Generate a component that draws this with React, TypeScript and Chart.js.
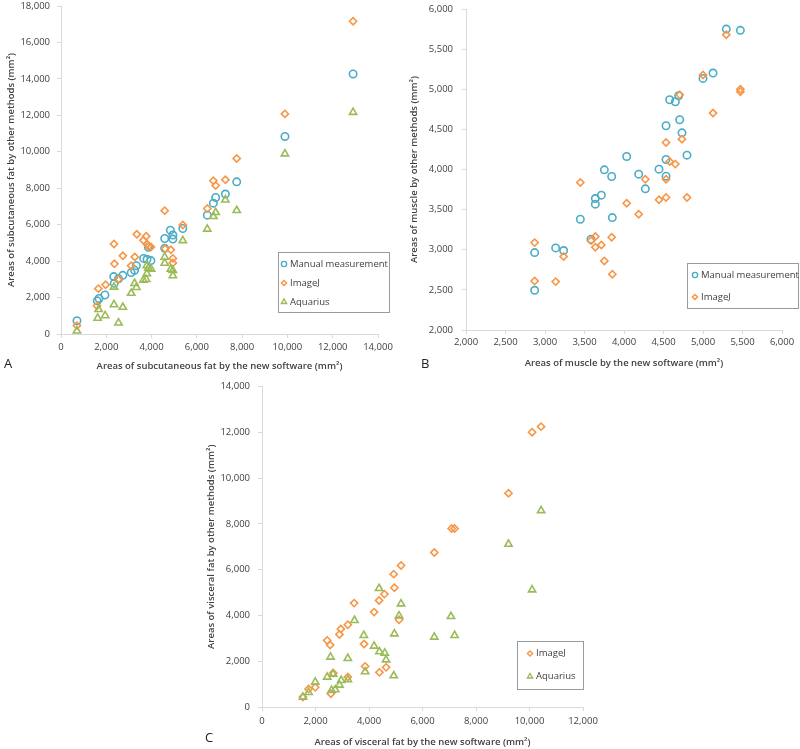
import React, { useEffect, useRef } from "react";
import { Chart, registerables } from "chart.js";

Chart.register(...registerables);

const FONT = '"Open Sans", "Noto Sans", sans-serif';
const TEXT = "#404040";
const AXIS = "#d9d9d9";
const BLUE = "#4bacc6";
const ORANGE = "#f79646";
const GREEN = "#9bbb59";

// ---------- Panel A: subcutaneous fat ----------
const subcutManualX = [705, 1600, 1680, 1940, 2330, 2350, 2540, 2730, 3100, 3250, 3330, 3650, 3800, 3860, 3970, 4580, 4580, 4830, 4940, 4940, 5380, 6460, 6730, 6830, 7260, 7760, 9890, 12900];
const subcutManualY = [730, 1820, 1950, 2140, 3150, 2780, 3030, 3220, 3370, 3500, 3750, 4150, 4100, 4760, 4030, 5240, 4700, 5700, 5430, 5210, 5790, 6520, 7180, 7490, 7680, 8350, 10840, 14270];
const subcutImageJX = [705, 1590, 1650, 1970, 2340, 2360, 2540, 2730, 3100, 3260, 3350, 3640, 3760, 3800, 3860, 3970, 4580, 4600, 4850, 4940, 4940, 5380, 6460, 6730, 6830, 7260, 7760, 9890, 12900];
const subcutImageJY = [460, 1550, 2490, 2700, 4940, 3850, 3010, 4290, 3750, 4230, 5470, 5140, 5360, 4930, 4810, 4770, 6770, 4680, 4620, 4150, 3900, 5980, 6890, 8410, 8150, 8460, 9630, 12080, 17160];
const subcutAquariusX = [705, 1620, 1660, 1950, 2340, 2340, 2540, 2730, 3100, 3250, 3330, 3640, 3760, 3790, 3790, 3860, 3980, 4580, 4580, 4850, 4940, 4940, 5380, 6460, 6730, 6830, 7260, 7760, 9890, 12900];
const subcutAquariusY = [170, 870, 1350, 1010, 1610, 2580, 610, 1470, 2240, 2780, 2560, 2960, 3000, 3310, 3760, 3620, 3560, 4220, 3890, 3560, 3490, 3200, 5130, 5760, 6450, 6670, 7360, 6780, 9890, 12170];

// ---------- Panel B: muscle ----------
const muscleManualX = [2869, 2869, 3135, 3236, 3447, 3582, 3637, 3637, 3713, 3751, 3844, 3852, 4034, 4186, 4270, 4443, 4532, 4532, 4532, 4578, 4650, 4692, 4705, 4734, 4797, 5000, 5127, 5295, 5473];
const muscleManualY = [2495, 2965, 3023, 2990, 3380, 3131, 3638, 3568, 3680, 3996, 3913, 3401, 4162, 3942, 3759, 4004, 4545, 4125, 3917, 4869, 4844, 4919, 4620, 4457, 4179, 5135, 5202, 5750, 5734];
const muscleImageJX = [2869, 2869, 3135, 3236, 3447, 3582, 3637, 3637, 3713, 3751, 3844, 3852, 4034, 4186, 4270, 4443, 4532, 4532, 4532, 4578, 4650, 4705, 4734, 4797, 5000, 5127, 5295, 5473, 5473];
const muscleImageJY = [3089, 2611, 2603, 2915, 3838, 3114, 3164, 3031, 3060, 2861, 3156, 2694, 3580, 3443, 3879, 3622, 4337, 3651, 3879, 4100, 4067, 4930, 4378, 3651, 5177, 4703, 5680, 5000, 4970];

// ---------- Panel C: visceral fat ----------
const visceralImageJX = [1530, 1741, 1990, 2437, 2549, 2574, 2661, 2897, 2947, 3208, 3208, 3444, 3817, 3855, 4190, 4377, 4389, 4576, 4638, 4924, 4949, 5123, 5198, 6441, 7088, 7200, 9214, 10097, 10433];
const visceralImageJY = [436, 785, 858, 2909, 2705, 582, 1484, 3171, 3404, 3593, 1309, 4538, 2749, 1775, 4145, 4655, 1513, 4931, 1731, 5804, 5207, 3811, 6182, 6749, 7796, 7796, 9338, 12000, 12247];
const visceralAquariusX = [1530, 1741, 1990, 2437, 2561, 2599, 2661, 2736, 2897, 2959, 3208, 3208, 3457, 3805, 3855, 4190, 4377, 4389, 4588, 4638, 4924, 4949, 5123, 5198, 6441, 7063, 7200, 9214, 10097, 10433];
const visceralAquariusY = [436, 640, 1091, 1309, 2182, 727, 1440, 756, 960, 1164, 2124, 1193, 3782, 3127, 1542, 2662, 5178, 2415, 2356, 2065, 1367, 3200, 3985, 4509, 3055, 3956, 3127, 7113, 5120, 8582];

type Style = "circle" | "rectRot" | "triangle";
interface Series {
  label: string;
  xs: number[];
  ys: number[];
  color: string;
  style: Style;
  order: number;
}
interface PanelCfg {
  left: number;
  top: number;
  w: number;
  h: number;
  padTop: number;
  padRight: number;
  yWidth: number;
  xHeight: number;
  xMin: number;
  xMax: number;
  xStep: number;
  yMin: number;
  yMax: number;
  yStep: number;
  xTitle: string;
  yTitle: string;
  yTitlePad: number;
  xTitlePad: number;
  xTickPad: number;
  yTickPad: number;
  series: Series[];
  legend: { x: number; y: number; w: number; h: number; rows: number[]; markerX: number; textX: number };
}

const radiusFor = (s: Style) => (s === "triangle" ? 4.2 : s === "circle" ? 3.7 : 3.6);

function drawMarker(ctx: CanvasRenderingContext2D, style: Style, x: number, y: number, r: number, color: string) {
  ctx.beginPath();
  if (style === "circle") {
    ctx.arc(x, y, r, 0, Math.PI * 2);
  } else if (style === "rectRot") {
    ctx.moveTo(x, y - r);
    ctx.lineTo(x + r, y);
    ctx.lineTo(x, y + r);
    ctx.lineTo(x - r, y);
    ctx.closePath();
  } else {
    const a1 = (2 * Math.PI) / 3;
    ctx.moveTo(x, y - r);
    ctx.lineTo(x + r * Math.sin(a1), y - r * Math.cos(a1));
    ctx.lineTo(x - r * Math.sin(a1), y - r * Math.cos(a1));
    ctx.closePath();
  }
  ctx.strokeStyle = color;
  ctx.lineWidth = 1.4;
  ctx.stroke();
}

const fmt = (v: number | string) => Number(v).toLocaleString("en-US");

function ScatterPanel({ cfg }: { cfg: PanelCfg }) {
  const ref = useRef<HTMLCanvasElement>(null);
  useEffect(() => {
    if (!ref.current) return;
    const lg = cfg.legend;
    const legendPlugin = {
      id: "boxLegend",
      afterDraw(chart: any) {
        const ctx: CanvasRenderingContext2D = chart.ctx;
        ctx.save();
        ctx.strokeStyle = "#9a9a9a";
        ctx.lineWidth = 1;
        ctx.strokeRect(Math.round(lg.x) + 0.5, Math.round(lg.y) + 0.5, lg.w, lg.h);
        ctx.font = `9.5px ${FONT}`;
        ctx.fillStyle = TEXT;
        ctx.textBaseline = "middle";
        ctx.textAlign = "left";
        cfg.series.forEach((s, i) => {
          drawMarker(ctx, s.style, lg.markerX, lg.rows[i], s.style === "triangle" ? 3 : 2.6, s.color);
          ctx.fillText(s.label, lg.textX, lg.rows[i]);
        });
        ctx.restore();
      },
    };
    const chart = new Chart(ref.current, {
      type: "scatter",
      data: {
        datasets: cfg.series.map((s) => ({
          label: s.label,
          data: s.xs.map((x, i) => ({ x, y: s.ys[i] })),
          pointStyle: s.style,
          pointRadius: radiusFor(s.style),
          pointHoverRadius: radiusFor(s.style),
          pointBorderWidth: 1.6,
          borderColor: s.color,
          backgroundColor: "rgba(0,0,0,0)",
          showLine: false,
          order: s.order,
        })),
      },
      options: {
        responsive: false,
        maintainAspectRatio: false,
        animation: false,
        layout: { padding: { left: 0, right: cfg.padRight, top: cfg.padTop, bottom: 0 } },
        plugins: { legend: { display: false }, tooltip: { enabled: false } },
        scales: {
          x: {
            type: "linear",
            min: cfg.xMin,
            max: cfg.xMax,
            ticks: {
              stepSize: cfg.xStep,
              callback: (v: any) => fmt(v),
              font: { family: FONT, size: 9.5 },
              color: TEXT,
              padding: cfg.xTickPad,
              maxRotation: 0,
              autoSkip: false,
            },
            grid: { display: true, drawOnChartArea: false, drawTicks: true, tickLength: 4, color: AXIS },
            border: { display: true, color: AXIS, width: 1 },
            title: {
              display: true,
              text: cfg.xTitle,
              color: TEXT,
              font: { family: FONT, size: 9.5, weight: "600" },
              padding: { top: 0, bottom: cfg.xTitlePad },
            },
            afterFit: (scale: any) => {
              scale.height = cfg.xHeight;
              scale.paddingLeft = 0;
              scale.paddingRight = 0;
              scale.paddingTop = 0;
              scale.paddingBottom = 0;
            },
          },
          y: {
            type: "linear",
            min: cfg.yMin,
            max: cfg.yMax,
            ticks: {
              stepSize: cfg.yStep,
              callback: (v: any) => fmt(v),
              font: { family: FONT, size: 9.5 },
              color: TEXT,
              padding: cfg.yTickPad,
              autoSkip: false,
            },
            grid: { display: true, drawOnChartArea: false, drawTicks: true, tickLength: 4, color: AXIS },
            border: { display: true, color: AXIS, width: 1 },
            title: {
              display: true,
              text: cfg.yTitle,
              color: TEXT,
              font: { family: FONT, size: 9.5, weight: "600" },
              padding: { top: cfg.yTitlePad, bottom: 0 },
            },
            afterFit: (scale: any) => {
              scale.width = cfg.yWidth;
              scale.paddingLeft = 0;
              scale.paddingRight = 0;
              scale.paddingTop = 0;
              scale.paddingBottom = 0;
            },
          },
        },
      } as any,
      plugins: [legendPlugin],
    });
    return () => chart.destroy();
  }, []);
  return (
    <canvas
      ref={ref}
      width={cfg.w}
      height={cfg.h}
      style={{ position: "absolute", left: cfg.left, top: cfg.top, width: cfg.w, height: cfg.h, display: "block" }}
    />
  );
}

const manual = (xs: number[], ys: number[]): Series => ({ label: "Manual measurement", xs, ys, color: BLUE, style: "circle", order: 3 });
const imagej = (xs: number[], ys: number[]): Series => ({ label: "ImageJ", xs, ys, color: ORANGE, style: "rectRot", order: 2 });
const aquarius = (xs: number[], ys: number[]): Series => ({ label: "Aquarius", xs, ys, color: GREEN, style: "triangle", order: 1 });

const panelA: PanelCfg = {
  left: 0, top: 0, w: 400, h: 375,
  padTop: 6, padRight: 22, yWidth: 61, xHeight: 41,
  xMin: 0, xMax: 14000, xStep: 2000, yMin: 0, yMax: 18000, yStep: 2000,
  xTitle: "Areas of subcutaneous fat by the new software (mm²)",
  yTitle: "Areas of subcutaneous fat by other methods (mm²)",
  yTitlePad: 6, xTitlePad: 3, xTickPad: 4, yTickPad: 7,
  series: [manual(subcutManualX, subcutManualY), imagej(subcutImageJX, subcutImageJY), aquarius(subcutAquariusX, subcutAquariusY)],
  legend: { x: 278, y: 252, w: 111, h: 60, rows: [264, 283, 302], markerX: 284, textX: 290 },
};

const panelB: PanelCfg = {
  left: 400, top: 0, w: 400, h: 375,
  padTop: 9, padRight: 18, yWidth: 66, xHeight: 45,
  xMin: 2000, xMax: 6000, xStep: 500, yMin: 2000, yMax: 6000, yStep: 500,
  xTitle: "Areas of muscle by the new software (mm²)",
  yTitle: "Areas of muscle by other methods (mm²)",
  yTitlePad: 9, xTitlePad: 6, xTickPad: 3, yTickPad: 9,
  series: [manual(muscleManualX, muscleManualY), imagej(muscleImageJX, muscleImageJY)],
  legend: { x: 287, y: 263, w: 111, h: 45, rows: [275, 297], markerX: 295, textX: 301 },
};

const panelC: PanelCfg = {
  left: 190, top: 378, w: 410, h: 371,
  padTop: 8.5, padRight: 17, yWidth: 72, xHeight: 42,
  xMin: 0, xMax: 12000, xStep: 2000, yMin: 0, yMax: 14000, yStep: 2000,
  xTitle: "Areas of visceral fat by the new software (mm²)",
  yTitle: "Areas of visceral fat by other methods (mm²)",
  yTitlePad: 16, xTitlePad: 1.5, xTickPad: 5, yTickPad: 8,
  series: [imagej(visceralImageJX, visceralImageJY), aquarius(visceralAquariusX, visceralAquariusY)],
  legend: { x: 327, y: 263, w: 66, h: 48, rows: [275.5, 298.5], markerX: 340, textX: 346 },
};

const labelStyle = (left: number, top: number): React.CSSProperties => ({
  position: "absolute",
  left,
  top,
  fontFamily: FONT,
  fontSize: 13,
  lineHeight: "16px",
  color: "#222",
  margin: 0,
});

export default function App() {
  return (
    <div style={{ position: "absolute", left: 0, top: 0, width: 800, height: 749, background: "#fff", overflow: "hidden" }}>
      <ScatterPanel cfg={panelA} />
      <ScatterPanel cfg={panelB} />
      <ScatterPanel cfg={panelC} />
      <div style={labelStyle(4, 355)}>A</div>
      <div style={labelStyle(421, 355)}>B</div>
      <div style={labelStyle(205, 729)}>C</div>
    </div>
  );
}
